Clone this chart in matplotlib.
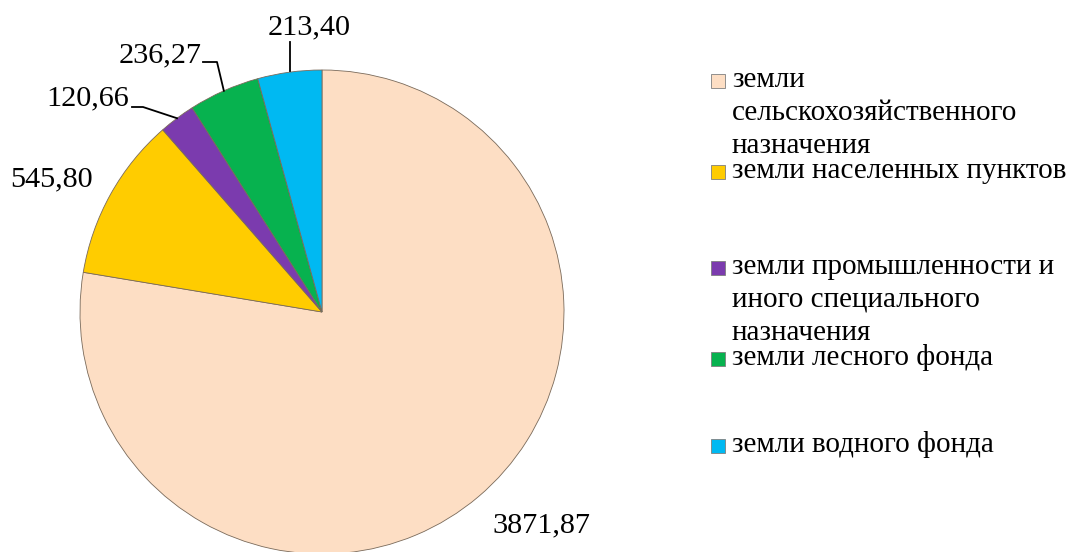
import numpy as np
import matplotlib
matplotlib.use("Agg")
import matplotlib.pyplot as plt
from matplotlib.patches import Rectangle

plt.rcParams['font.family'] = ['Liberation Serif', 'DejaVu Serif']

categories = [
    "земли\nсельскохозяйственного\nназначения",
    "земли населенных пунктов",
    "земли промышленности и\nиного специального\nназначения",
    "земли лесного фонда",
    "земли водного фонда",
]
values = [3871.87, 545.80, 120.66, 236.27, 213.40]
value_labels = ["3871,87", "545,80", "120,66", "236,27", "213,40"]
colors = ["#FDDEC4", "#FFCC00", "#7B3BAE", "#07B24F", "#00B9F2"]

W, H = 1070, 552
fig = plt.figure(figsize=(W / 100, H / 100), dpi=100)
ax = fig.add_axes([0, 0, 1, 1])

cx, cy, R = 322, H - 312, 242
wedges, _ = ax.pie(values, colors=colors, startangle=90, counterclock=False,
                   center=(cx, cy), radius=R, frame=True,
                   wedgeprops=dict(edgecolor="#7a6a5a", linewidth=0.6))
ax.set_xlim(0, W)
ax.set_ylim(0, H)
ax.set_aspect("equal")
ax.axis("off")

# value label placement: (text x, text y, leader elbow or None)
label_pos = [
    (541, H - 525, None),
    (52, H - 179, None),
    (88, H - 98, [(132, H - 107), (143, H - 107)]),
    (160, H - 55, [(203, H - 62), (217, H - 62)]),
    (309, H - 27, "vertical"),
]

for w, lab, (tx, ty, leader) in zip(wedges, value_labels, label_pos):
    ax.text(tx, ty, lab, ha="center", va="center", fontsize=21.8, color="black")
    mid = np.deg2rad((w.theta1 + w.theta2) / 2)
    ex, ey = cx + R * np.cos(mid), cy + R * np.sin(mid)
    if leader == "vertical":
        ax.plot([ex, ex], [ey + 1, H - 42], color="black", lw=1.3)
    elif leader is not None:
        xs = [p[0] for p in leader] + [ex]
        ys = [p[1] for p in leader] + [ey]
        ax.plot(xs, ys, color="black", lw=1.3)

# legend
first_baselines = [87, 178, 274, 365, 452]
line_step = 33
for cat, col, b in zip(categories, colors, first_baselines):
    ax.add_patch(Rectangle((711, H - b - 1), 14, 14, facecolor=col,
                           edgecolor="#7f7f7f", linewidth=0.6))
    for i, line in enumerate(cat.split("\n")):
        ax.text(732, H - (b + i * line_step), line, ha="left", va="baseline",
                fontsize=21, color="black")

fig.savefig("out.png", dpi=100)
